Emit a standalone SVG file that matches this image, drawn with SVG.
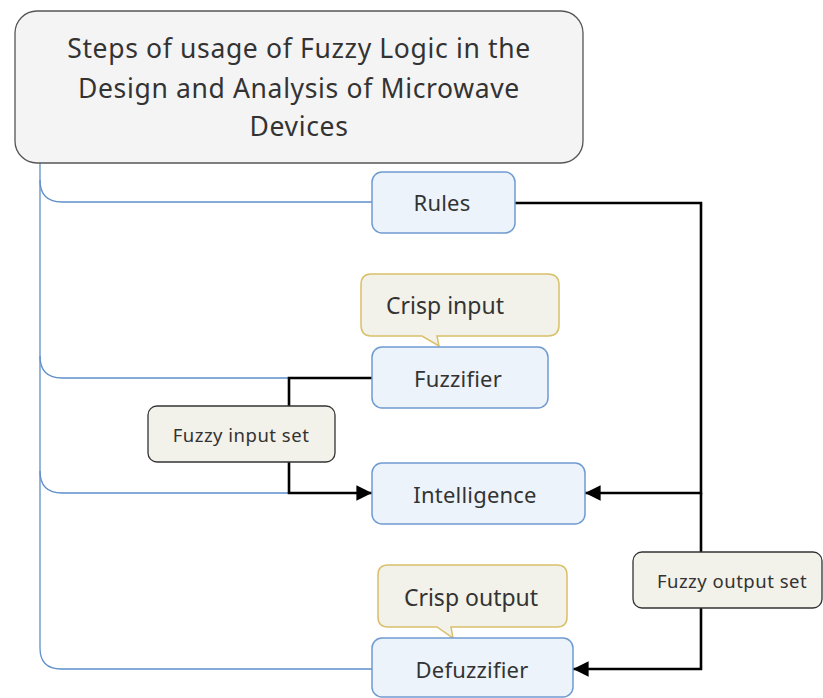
<svg xmlns="http://www.w3.org/2000/svg" width="823" height="698" viewBox="0 0 823 698">
  <defs>
    <style>
      .txt { font-family: "Noto Sans", "Open Sans", sans-serif; fill: #333; text-anchor: middle; dominant-baseline: central; }
      .title { font-size: 26.5px; letter-spacing: 0.65px; }
      .stepText { font-size: 22px; letter-spacing: 0.2px; }
      .noteText { font-size: 23px; }
      .labelText { font-size: 18.5px; letter-spacing: 0.5px; }
      .step { fill: #edf3fb; stroke: #6f9bd0; stroke-width: 1.5; }
      .note { fill: #f2f1ea; stroke: #d9c06a; stroke-width: 1.5; }
      .label { fill: #f2f1ea; stroke: #333; stroke-width: 1.3; }
      .branch { fill: none; stroke: #5f8fca; stroke-width: 1.3; }
      .flow { fill: none; stroke: #000; stroke-width: 2.6; }
    </style>
    <marker id="arrow" viewBox="0 0 10 10" refX="10" refY="5" markerWidth="6" markerHeight="6" markerUnits="strokeWidth" orient="auto">
      <path d="M0,0 L10,5 L0,10 Z" fill="#000"/>
    </marker>
  </defs>

  <rect width="823" height="698" fill="#fff"/>

  <!-- connectors -->
  <g id="connectors">
    <!-- tree branches from the root -->
    <path class="branch" d="M40,163 V648 Q40,669 61,669 H372"/>
    <path class="branch" d="M40,180 Q40,202 62,202 H372"/>
    <path class="branch" d="M40,356 Q40,378 62,378 H372"/>
    <path class="branch" d="M40,471 Q40,493 62,493 H372"/>
    <!-- signal flow -->
    <path class="flow" d="M372,378 H289 V406"/>
    <path class="flow" d="M289,462 V493 H372" marker-end="url(#arrow)"/>
    <path class="flow" d="M515,203 H701 V493 H585" marker-end="url(#arrow)"/>
    <path class="flow" d="M701,493 V552"/>
    <path class="flow" d="M701,608 V669 H573" marker-end="url(#arrow)"/>
  </g>

  <g id="root">
    <rect x="15" y="11" width="568" height="152" rx="22" fill="#f4f4f4" stroke="#555" stroke-width="1.3"/>
    <text class="txt title" x="299" y="48">Steps of usage of Fuzzy Logic in the</text>
    <text class="txt title" x="299" y="88">Design and Analysis of Microwave</text>
    <text class="txt title" x="299" y="126">Devices</text>
  </g>

  <g id="rules">
    <rect class="step" x="372" y="172" width="143" height="61" rx="10"/>
    <text class="txt stepText" x="442" y="202">Rules</text>
  </g>

  <g id="crisp-input">
    <path class="note" d="M371,274 H548 Q559,274 559,285 V325 Q559,336 548,336 H437 L439,346 L422,336 H371 Q361,336 361,325 V285 Q361,274 371,274 Z"/>
    <text class="txt noteText" x="445" y="305">Crisp input</text>
  </g>

  <g id="fuzzifier">
    <rect class="step" x="372" y="347" width="176" height="61" rx="10"/>
    <text class="txt stepText" x="458" y="378">Fuzzifier</text>
  </g>

  <g id="fuzzy-input-set">
    <rect class="label" x="148" y="406" width="187" height="56" rx="9"/>
    <text class="txt labelText" x="241" y="434">Fuzzy input set</text>
  </g>

  <g id="intelligence">
    <rect class="step" x="372" y="463" width="213" height="61" rx="10"/>
    <text class="txt stepText" x="475" y="494">Intelligence</text>
  </g>

  <g id="fuzzy-output-set">
    <rect class="label" x="633" y="552" width="189" height="56" rx="9"/>
    <text class="txt labelText" x="732" y="580">Fuzzy output set</text>
  </g>

  <g id="crisp-output">
    <path class="note" d="M388,565 H557 Q567,565 567,575 V617 Q567,627 557,627 H451 L453,638 L437,627 H388 Q378,627 378,617 V575 Q378,565 388,565 Z"/>
    <text class="txt noteText" x="471" y="597">Crisp output</text>
  </g>

  <g id="defuzzifier">
    <rect class="step" x="372" y="638" width="201" height="59" rx="10"/>
    <text class="txt stepText" x="472" y="669">Defuzzifier</text>
  </g>
</svg>
